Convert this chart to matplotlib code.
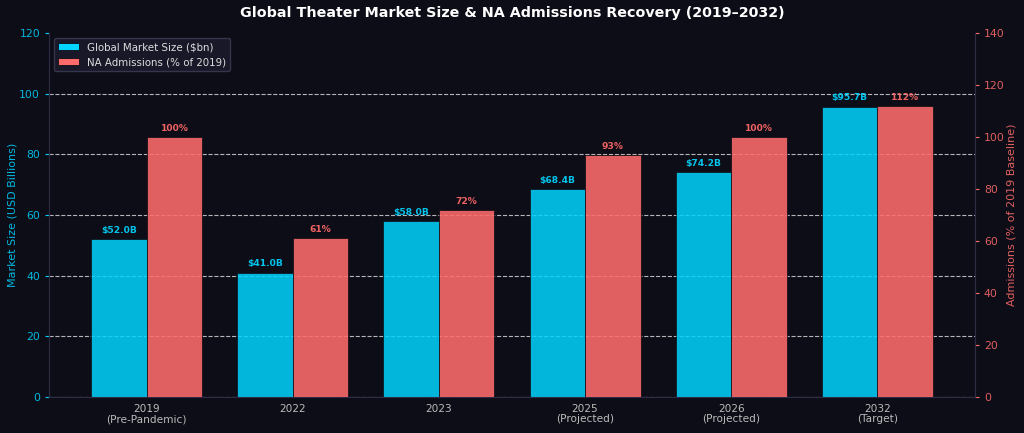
import matplotlib
matplotlib.use("Agg")
import matplotlib.pyplot as plt
import numpy as np

categories = ["2019\n(Pre-Pandemic)", "2022", "2023", "2025\n(Projected)", "2026\n(Projected)", "2032\n(Target)"]
market_size = [52.0, 41.0, 58.0, 68.4, 74.2, 95.7]
admissions = [100, 61, 72, 93, 100, 112]

BG = "#0d0d17"
BLUE = "#00d4ff"
RED = "#ff6b6b"
SPINE = "#2e2c45"

fig = plt.figure(figsize=(10.24, 4.33), dpi=100, facecolor=BG)
ax1 = fig.add_axes([0.048, 0.083, 0.904, 0.841])
ax1.set_facecolor(BG)
ax2 = ax1.twinx()

x = np.arange(len(categories))
w = 0.38

ax1.bar(x - w / 2, market_size, w, color=BLUE, alpha=0.85, edgecolor=BG, linewidth=0.6,
        label="Global Market Size ($bn)", zorder=3)
ax2.bar(x + w / 2, admissions, w, color=RED, alpha=0.88, edgecolor=BG, linewidth=0.6,
        label="NA Admissions (% of 2019)", zorder=3)

ax1.set_ylim(0, 120)
ax2.set_ylim(0, 140)
ax1.set_yticks(np.arange(0, 121, 20))
ax2.set_yticks(np.arange(0, 141, 20))

ax1.grid(axis="y", color="white", linestyle="--", linewidth=0.8, alpha=0.7, zorder=0)
ax1.set_axisbelow(True)
gl = ax1.get_ygridlines()
gl[-1].set_visible(False)

for xi, v in zip(x, market_size):
    ax1.annotate(f"${v:.1f}B", (xi - w / 2, v), xytext=(0, 3), textcoords="offset points",
                 ha="center", va="bottom", color="#00c4ec", fontsize=6.6, fontweight="bold", zorder=5)
for xi, v in zip(x, admissions):
    ax2.annotate(f"{v}%", (xi + w / 2, v), xytext=(0, 3), textcoords="offset points",
                 ha="center", va="bottom", color="#ee6262", fontsize=6.6, fontweight="bold", zorder=5)

ax1.set_xticks(x)
ax1.set_xticklabels(categories, color="#bbbbbb", fontsize=7.6, linespacing=1.0)
ax1.tick_params(axis="x", length=0, pad=5)
ax1.tick_params(axis="y", colors=BLUE, labelsize=7.8, length=3)
ax2.tick_params(axis="y", colors=RED, labelsize=7.8, length=3)
for t in ax1.get_yticklabels():
    t.set_color("#00b8e0")
for t in ax2.get_yticklabels():
    t.set_color("#e06060")

ax1.set_ylabel("Market Size (USD Billions)", color="#00b8e0", fontsize=8, labelpad=1)
ax2.set_ylabel("Admissions (% of 2019 Baseline)", color="#e06060", fontsize=8, labelpad=1)

for ax in (ax1, ax2):
    for s in ax.spines.values():
        s.set_color(SPINE)
    ax.spines["top"].set_visible(False)

fig.suptitle("Global Theater Market Size & NA Admissions Recovery (2019\u20132032)",
             color="white", fontsize=10.3, fontweight="bold", y=0.985)

h1, l1 = ax1.get_legend_handles_labels()
h2, l2 = ax2.get_legend_handles_labels()
leg = ax1.legend(h1 + h2, l1 + l2, loc="upper left", fontsize=7.4, facecolor="#1a1a2a",
                 edgecolor="#3a3a50", framealpha=0.9, labelcolor="#dddddd")
for p in leg.get_patches():
    p.set_alpha(1.0)
ax2.set_zorder(ax1.get_zorder() + 1)
ax2.patch.set_visible(False)
leg.remove()
ax2.add_artist(leg)

fig.savefig("out.png", dpi=100, facecolor=BG)
